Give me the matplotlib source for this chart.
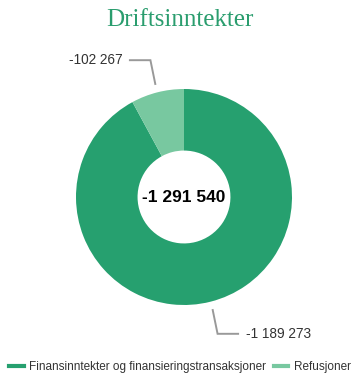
import numpy as np
import matplotlib
matplotlib.use("Agg")
import matplotlib.pyplot as plt
from matplotlib.lines import Line2D

categories = ["Finansinntekter og finansieringstransaksjoner", "Refusjoner"]
values = [-1189273, -102267]
labels = ["-1 189 273", "-102 267"]
total_label = "-1 291 540"
colors = ["#26a06f", "#78c8a0"]

W, H = 360, 378
fig = plt.figure(figsize=(W / 100, H / 100), dpi=100)
fig.patch.set_facecolor("white")

# square axes for the donut, centred at (184, 197) px, radius 108 px
cx, cy, r = 184, 197, 108
ax = fig.add_axes([(cx - r) / W, (H - cy - r) / H, 2 * r / W, 2 * r / H])
ax.set_aspect("equal")
ax.axis("off")

sizes = np.abs(values)
wedges, _ = ax.pie(sizes, colors=colors, startangle=90, counterclock=False,
                   radius=1.0, wedgeprops=dict(width=0.57, linewidth=0))
ax.set_xlim(-1, 1)
ax.set_ylim(-1, 1)

font = "Liberation Sans"
for w, lab in zip(wedges, labels):
    mid = np.deg2rad((w.theta1 + w.theta2) / 2)
    ux, uy = np.cos(mid), np.sin(mid)
    sx, sy = np.sign(ux), np.sign(uy)
    start = np.array([1.08 * ux, 1.08 * uy])
    elbow = start + np.array([sx * 0.045, sy * 0.22])
    end = elbow + np.array([sx * 0.19, 0])
    ax.plot([start[0], elbow[0], end[0]], [start[1], elbow[1], end[1]],
            color="#999999", lw=1.4, clip_on=False, solid_joinstyle="miter")
    ax.text(end[0] + sx * 0.07, end[1], lab, ha="left" if sx > 0 else "right",
            va="center", fontsize=9.8, color="#333333", family=font, clip_on=False)

ax.text(0, 0, total_label, ha="center", va="center", fontsize=12.5,
        fontweight="bold", color="#000000", family=font)

fig.text(0.5, 1 - 20 / H, "Driftsinntekter", ha="center", va="center",
         fontsize=18, color="#2a9d6e", family="Liberation Serif")

handles = [Line2D([0], [0], color=c, lw=3) for c in colors]
fig.legend(handles, categories, loc="center", bbox_to_anchor=(0.5, 1 - 367 / H),
           ncol=2, frameon=False, handlelength=1.2,
           handletextpad=0.45, columnspacing=0.7,
           prop=dict(family=font, size=8.5), labelcolor="#333333")

fig.savefig("out.png", dpi=100, facecolor="white")
